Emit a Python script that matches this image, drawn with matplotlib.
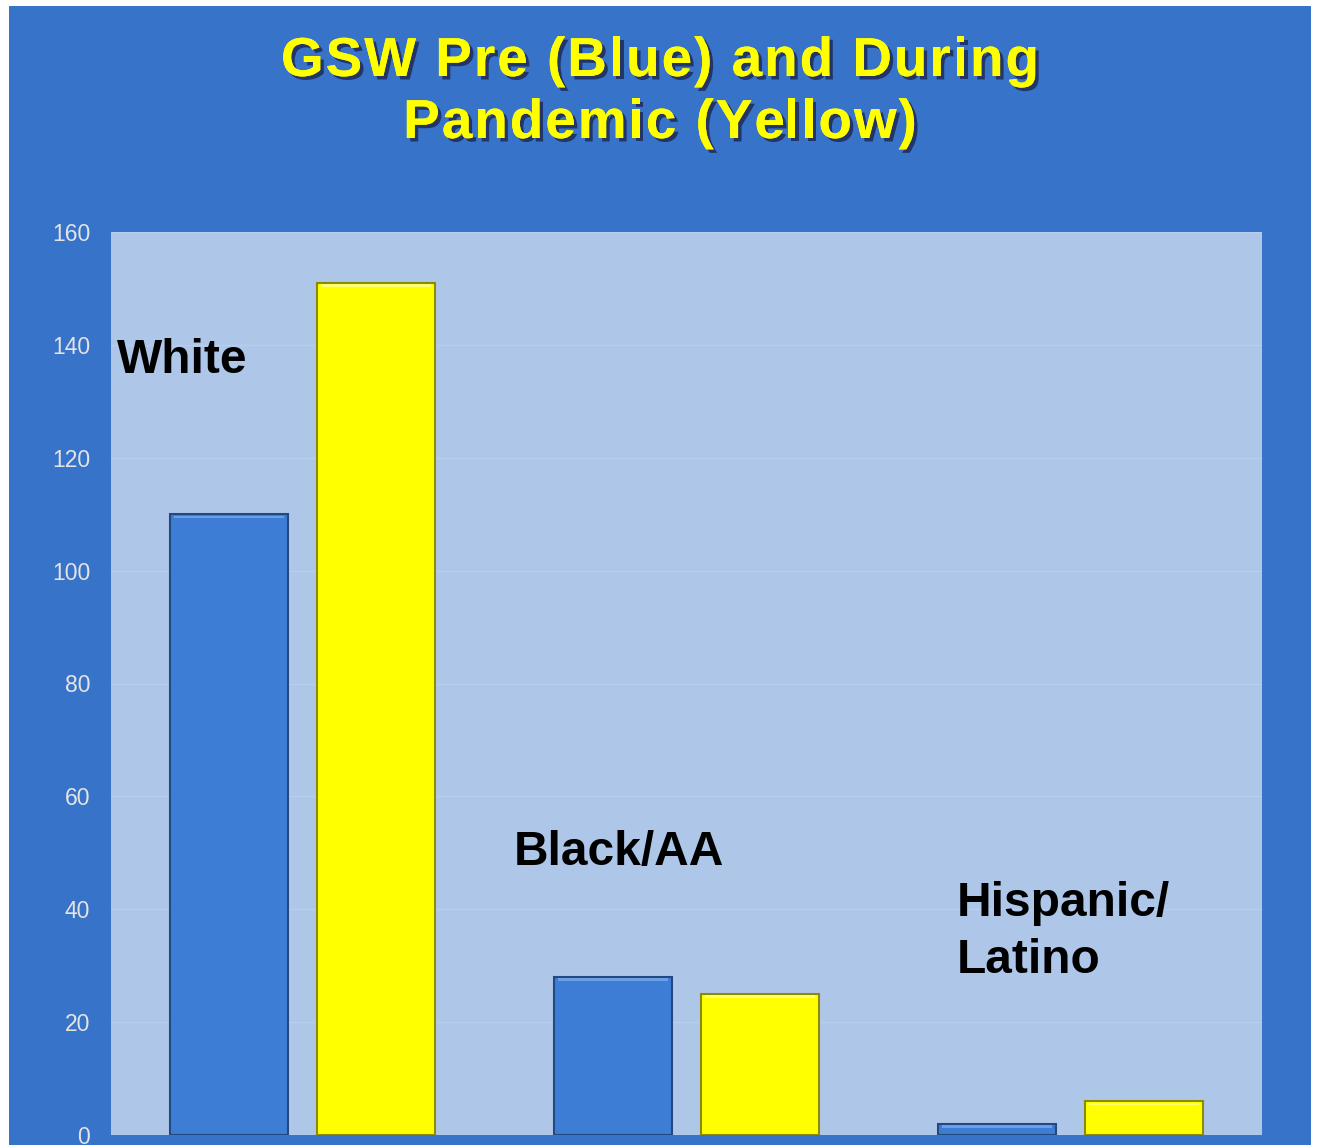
import numpy as np
import matplotlib
matplotlib.use("Agg")
from matplotlib import pyplot as plt
from matplotlib.patches import Rectangle
from matplotlib.font_manager import FontProperties
import matplotlib.patheffects as pe

groups = ["White", "Black/AA", "Hispanic/\nLatino"]
pre = [110, 28, 2]
during = [151, 25, 6]
yticks = [0, 20, 40, 60, 80, 100, 120, 140, 160]
title_lines = ["GSW Pre (Blue) and During", "Pandemic (Yellow)"]

panel = "#3773c8"
plot_bg = "#aec7e9"

fig = plt.figure(figsize=(13.19, 11.45), dpi=100)
fig.patch.set_facecolor("white")
# blue slide panel behind everything
fig.add_artist(Rectangle((9 / 1319, 0), 1302 / 1319, 1139 / 1145,
                         transform=fig.transFigure, facecolor=panel,
                         edgecolor="none", zorder=-5))

ax = fig.add_axes([111 / 1319, 10 / 1145, 1151 / 1319, 903 / 1145])
ax.set_zorder(2)
ax.set_facecolor(plot_bg)

x = np.arange(len(groups))
w = 0.3075
off = 0.1916
ax.bar(x - off, pre, w, color="#3e7dd6", edgecolor="#23497f", linewidth=1.5, zorder=3)
ax.bar(x + off, during, w, color="#ffff00", edgecolor="#8c8c00", linewidth=1.5, zorder=3)

# light top bevel on each bar
for xs, vals, hi in [(x - off, pre, "#7fb0f0"), (x + off, during, "#ffffa0")]:
    for xi, v in zip(xs, vals):
        h = min(0.5, v * 0.3)
        ax.add_patch(Rectangle((xi - w / 2 + 0.01, v - h - 0.25), w - 0.02, h,
                               facecolor=hi, edgecolor="none", alpha=0.7, zorder=4))

ax.set_xlim(-0.5, 2.5)
ax.set_ylim(0, 160)
ax.set_yticks(yticks)
ax.set_xticks([])
ax.tick_params(axis="y", length=0, pad=15, labelsize=16.5, labelcolor="#e4e4e4")
for t in ax.get_yticklabels():
    t.set_fontfamily("Liberation Sans")
ax.grid(axis="y", color="#b7cfee", linewidth=1, zorder=1)
for s in ax.spines.values():
    s.set_visible(False)

lbl = dict(fontsize=34.5, fontweight="bold", color="black", family="Liberation Sans",
           va="center", ha="left", linespacing=1.35)
ax.text(-0.484, 137.3, groups[0], **lbl)
ax.text(0.551, 50.0, groups[1], **lbl)
ax.text(1.705, 36.0, groups[2], **lbl)

# title, drawn glyph by glyph so the letters can be spread a little
prop = FontProperties(family="Liberation Sans", weight="bold", size=39.5)
renderer = fig.canvas.get_renderer()
shadow = [pe.withSimplePatchShadow(offset=(2.5, -2.5), shadow_rgbFace="#1a1a40", alpha=0.7),
          pe.Normal()]


def text_w(s):
    wx, _, _ = renderer.get_text_width_height_descent(s + "x", prop, ismath=False)
    wx0, _, _ = renderer.get_text_width_height_descent("x", prop, ismath=False)
    return wx - wx0


spacing = 2.0
for line, yc in zip(title_lines, [56, 118]):
    total = text_w(line) + spacing * (len(line) - 1)
    x0 = 660 - total / 2
    for i, ch in enumerate(line):
        if ch == " ":
            continue
        px = x0 + text_w(line[:i]) + spacing * i
        fig.text(px / 1319, 1 - yc / 1145, ch, fontproperties=prop, color="#ffff00",
                 ha="left", va="center_baseline", path_effects=shadow)

fig.savefig("out.png", dpi=100, facecolor=fig.get_facecolor())
